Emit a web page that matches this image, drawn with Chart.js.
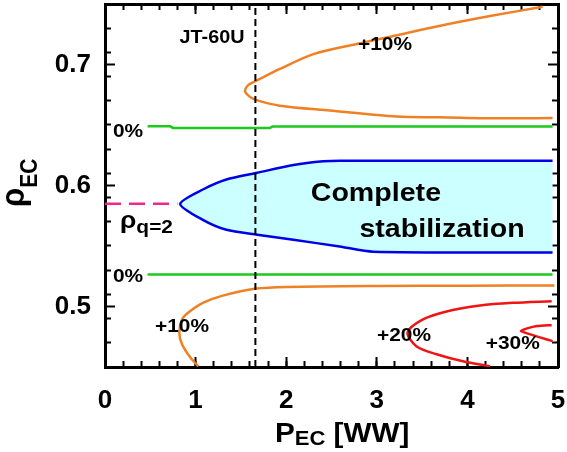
<!DOCTYPE html>
<html>
<head>
<meta charset="utf-8">
<script src="https://cdn.jsdelivr.net/npm/chart.js@4.4.0/dist/chart.umd.min.js"></script>
</head>
<body style="margin:0">
<canvas id="myChart" width="567" height="452"></canvas>
<script>
// tick labels
var xTicks = [0, 1, 2, 3, 4, 5];
var yTicks = [0.5, 0.6, 0.7];
// minor tick marks
var xMinor = [];
for (var a = 0; a <= 25; a++) xMinor.push(a * 0.2);
var yMinor = [];
for (var b = 0; b <= 15; b++) yMinor.push(0.45 + b * 0.02);

// +10% contour, upper branch (right end -> nose -> right end)
var up10X = [4.83, 4.25, 3.70, 3.15, 2.78, 2.30, 1.93, 1.656, 1.58, 1.545, 1.58, 1.656, 1.93, 2.48, 3.22, 3.70, 4.36, 4.94];
var up10Y = [0.7477, 0.740, 0.732, 0.723, 0.717, 0.7086, 0.6963, 0.686, 0.683, 0.6785, 0.6745, 0.671, 0.666, 0.662, 0.657, 0.6564, 0.6555, 0.6558];

// +10% contour, lower branch
var lo10X = [1.03, 0.94, 0.85, 0.82, 0.85, 0.92, 1.08, 1.30, 1.67, 2.01, 3.0, 4.0, 4.96];
var lo10Y = [0.4506, 0.458, 0.4687, 0.4786, 0.4893, 0.495, 0.503, 0.509, 0.5148, 0.5162, 0.517, 0.5172, 0.5173];

// 0% contours
var zeroTopX = [0.47, 0.72, 0.75, 1.82, 1.85, 4.94];
var zeroTopY = [0.6489, 0.6489, 0.6476, 0.6476, 0.6488, 0.6488];
var zeroLowX = [0.47, 4.94];
var zeroLowY = [0.5264, 0.5264];

// complete stabilization boundary
var blueX = [4.94, 2.6, 2.41, 2.08, 1.68, 1.34, 1.08, 0.83, 1.08, 1.34, 1.68, 2.08, 2.59, 2.96, 4.94];
var blueY = [0.6205, 0.6205, 0.620, 0.6169, 0.6105, 0.605, 0.5967, 0.5848, 0.5716, 0.5634, 0.5593, 0.5551, 0.5496, 0.5453, 0.5447];

// +20% and +30% contours
var r20X = [4.93, 4.50, 4.14, 3.77, 3.51, 3.34, 3.44, 3.66, 3.95, 4.25];
var r20Y = [0.5044, 0.503, 0.5008, 0.4959, 0.4893, 0.4786, 0.467, 0.4605, 0.4547, 0.4506];
var r30X = [4.93, 4.77, 4.66, 4.59, 4.66, 4.80, 4.94];
var r30Y = [0.4846, 0.4838, 0.4819, 0.4797, 0.4778, 0.4745, 0.4714];

// q=2 surface and JT-60U power
var rhoQ2 = 0.585;
var rhoQ2End = 0.80;
var jtPower = 1.66;

// labels placed in data units
var noteText = ['JT-60U', '+10%', '0%', '0%', '+10%', '+20%', '+30%', 'Complete', 'stabilization'];
var noteX = [1.181, 3.09, 0.254, 0.254, 0.85, 3.30, 4.50, 2.99, 3.72];
var noteY = [0.7181, 0.7123, 0.6399, 0.5206, 0.4786, 0.4712, 0.4646, 0.5872, 0.5576];

var FONT = '"Liberation Sans", Arial, Helvetica, sans-serif';
var SX = 1.1; // text in the picture is a bit wide

function pts(xs, ys) {
  return xs.map(function (x, i) { return { x: x, y: ys[i] }; });
}

function curve(data, color, extra) {
  var d = {
    data: data,
    showLine: true,
    borderColor: color,
    borderWidth: 2.5,
    pointRadius: 0,
    fill: false,
    tension: 0.3
  };
  if (extra) for (var k in extra) d[k] = extra[k];
  return d;
}

function drawText(c, str, x, y, size, align) {
  c.save();
  c.translate(x, y);
  c.scale(SX, 1);
  c.font = 'bold ' + size + 'px ' + FONT;
  c.textAlign = align || 'center';
  c.textBaseline = 'alphabetic';
  c.fillStyle = '#000';
  c.fillText(str, 0, 0);
  c.restore();
}

function noPad(s) {
  s.paddingTop = 0; s.paddingBottom = 0; s.paddingLeft = 0; s.paddingRight = 0;
}

// axis that only draws tick marks, sitting on one edge of the plot
function tickAxis(axis, where, values, len) {
  var isX = axis === 'x';
  return {
    type: 'linear', axis: axis,
    min: isX ? 0 : 0.45, max: isX ? 5 : 0.75,
    position: where,
    afterBuildTicks: function (s) { s.ticks = values.map(function (v) { return { value: v }; }); },
    grid: { display: true, drawOnChartArea: false, drawTicks: true, tickLength: len,
      tickWidth: 2, tickColor: '#000' },
    border: { display: false },
    ticks: { display: false }
  };
}

// notes and axis titles
var notePlugin = {
  id: 'notes',
  afterDraw: function (chart) {
    var c = chart.ctx;
    var xs = chart.scales.x, ys = chart.scales.y;
    var B = ys.getPixelForValue(0.45);
    var sizes = [18, 19, 19, 19, 19, 19, 19, 26, 26];
    for (var n = 0; n < noteText.length; n++) {
      drawText(c, noteText[n], xs.getPixelForValue(noteX[n]), ys.getPixelForValue(noteY[n]), sizes[n]);
    }
    // rho_q=2
    var rx = xs.getPixelForValue(0.166), ry = ys.getPixelForValue(0.565);
    drawText(c, 'ρ', rx, ry, 24, 'left');
    c.save();
    c.font = 'bold 24px ' + FONT;
    var rw = c.measureText('ρ').width * SX;
    c.font = 'bold 27px ' + FONT;
    var wP = c.measureText('P').width * SX;
    c.font = 'bold 20px ' + FONT;
    var wE = c.measureText('EC').width * SX;
    c.restore();
    drawText(c, 'q=2', rx + rw, ry + 5, 19, 'left');

    // x title
    var tx = 275, tb = B + 75;
    drawText(c, 'P', tx, tb, 27, 'left');
    drawText(c, 'EC', tx + wP, tb + 3, 20, 'left');
    drawText(c, ' [WW]', tx + wP + wE, tb, 27, 'left');

    // y title (rotated)
    c.save();
    c.translate(24, 207);
    c.scale(SX, 1);
    c.rotate(-Math.PI / 2);
    c.fillStyle = '#000';
    c.textAlign = 'left';
    c.textBaseline = 'alphabetic';
    c.font = 'bold 31px ' + FONT;
    c.fillText('ρ', 0, 0);
    var wr = c.measureText('ρ').width;
    c.font = 'bold 21px ' + FONT;
    c.fillText('EC', wr, 12);
    c.restore();
  }
};

var tickFont = { family: FONT, size: 26, weight: 'bold' };
var edge = { display: true, color: '#000', width: 3 };

var ctx = document.getElementById('myChart').getContext('2d');
var myChart = new Chart(ctx, {
  type: 'scatter',
  data: {
    datasets: [
      curve([{ x: jtPower, y: 0.45 }, { x: jtPower, y: 0.75 }], '#000', { borderWidth: 2, borderDash: [7, 4], tension: 0 }),
      curve([{ x: 0, y: rhoQ2 }, { x: rhoQ2End, y: rhoQ2 }], '#f0288c', { borderDash: [16, 8], tension: 0 }),
      curve(pts(up10X, up10Y), '#f08024'),
      curve(pts(lo10X, lo10Y), '#f08024'),
      curve(pts(r20X, r20Y), '#f01414'),
      curve(pts(r30X, r30Y), '#f01414', { tension: 0.15 }),
      curve(pts(zeroTopX, zeroTopY), '#1ec81e', { tension: 0 }),
      curve(pts(zeroLowX, zeroLowY), '#1ec81e', { tension: 0 }),
      curve(pts(blueX, blueY), '#0000e6', { fill: 'shape', backgroundColor: '#ccffff', tension: 0.25 })
    ]
  },
  options: {
    responsive: false,
    animation: false,
    devicePixelRatio: 1,
    layout: { padding: { top: 4, right: 9, left: 0, bottom: 0 } },
    plugins: { legend: { display: false }, tooltip: { enabled: false } },
    scales: {
      x: {
        type: 'linear', min: 0, max: 5, position: 'bottom',
        afterBuildTicks: function (s) { s.ticks = xTicks.map(function (v) { return { value: v }; }); },
        afterFit: function (s) { s.height = 85; noPad(s); },
        grid: { display: false, drawTicks: false },
        border: edge,
        ticks: { font: tickFont, color: '#000', padding: 18, maxRotation: 0, autoSkip: false,
          callback: function (v) { return String(v); } }
      },
      y: {
        type: 'linear', min: 0.45, max: 0.75, position: 'left',
        afterBuildTicks: function (s) { s.ticks = yTicks.map(function (v) { return { value: v }; }); },
        afterFit: function (s) { s.width = 105; noPad(s); },
        grid: { display: false, drawTicks: false },
        border: edge,
        ticks: { font: tickFont, color: '#000', padding: 14, autoSkip: false,
          callback: function (v) { return v.toFixed(1); } }
      },
      x2: {
        type: 'linear', min: 0, max: 5, position: 'top',
        afterFit: function (s) { s.height = 0; noPad(s); },
        grid: { display: false, drawTicks: false }, border: edge, ticks: { display: false }
      },
      y2: {
        type: 'linear', min: 0.45, max: 0.75, position: 'right',
        afterFit: function (s) { s.width = 0; noPad(s); },
        grid: { display: false, drawTicks: false }, border: edge, ticks: { display: false }
      },
      // inward tick marks on the four edges
      xMinB: tickAxis('x', { y: 0.45 }, xMinor, -6),
      xMajB: tickAxis('x', { y: 0.45 }, xTicks, -10),
      xMinT: tickAxis('x', { y: 0.75 }, xMinor, 6),
      xMajT: tickAxis('x', { y: 0.75 }, xTicks, 10),
      yMinL: tickAxis('y', { x: 0 }, yMinor, -6),
      yMajL: tickAxis('y', { x: 0 }, yTicks, -10),
      yMinR: tickAxis('y', { x: 5 }, yMinor, 6),
      yMajR: tickAxis('y', { x: 5 }, yTicks, 10)
    }
  },
  plugins: [notePlugin]
});
</script>
</body>
</html>
